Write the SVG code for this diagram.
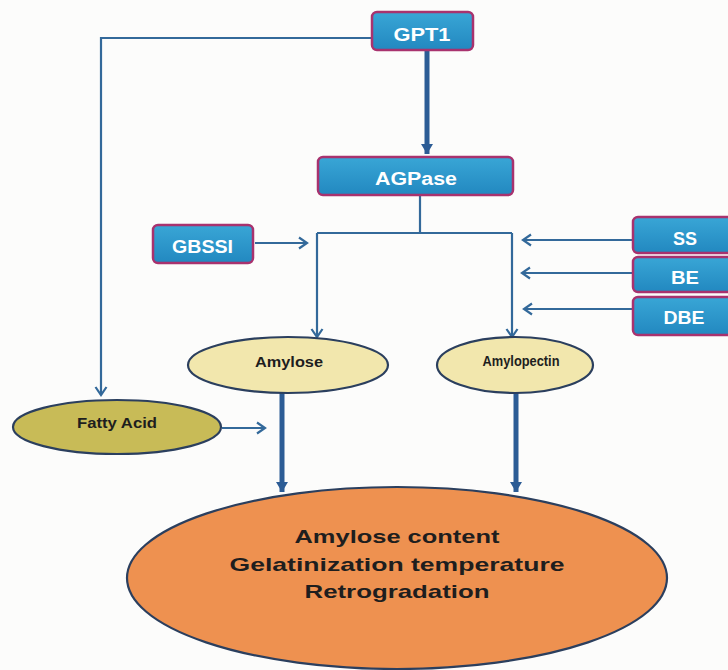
<svg xmlns="http://www.w3.org/2000/svg" width="728" height="670" viewBox="0 0 728 670">
<style>
.box{fill:url(#boxg);stroke:#a8326e;stroke-width:2.5}
.bt{font-family:"Liberation Sans",Arial,sans-serif;font-weight:bold;fill:#ffffff;text-anchor:middle}
.et{font-family:"Liberation Sans",Arial,sans-serif;font-weight:bold;fill:#1e1e1e;text-anchor:middle}
.thin{fill:none;stroke:#33699a;stroke-width:2.2}
.thick{fill:none;stroke:#2c5c95;stroke-width:5}
.ell{stroke:#2b3f5e;stroke-width:2.2}
</style>
<defs>
<linearGradient id="boxg" x1="0" y1="0" x2="0" y2="1">
<stop offset="0" stop-color="#39a6d6"/>
<stop offset="1" stop-color="#2288c0"/>
</linearGradient>
<marker id="open" markerUnits="userSpaceOnUse" markerWidth="14" markerHeight="14" refX="11" refY="7" orient="auto">
<path d="M3,1.5 L11,7 L3,12.5" fill="none" stroke="#33699a" stroke-width="2.2"/>
</marker>
<marker id="solid" markerUnits="userSpaceOnUse" markerWidth="14" markerHeight="14" refX="12" refY="7" orient="auto">
<path d="M2,1 L12,7 L2,13 Z" fill="#2c5c95"/>
</marker>
</defs>
<rect width="728" height="670" fill="#fcfcfb"/>
<g id="connectors">
<polyline class="thin" points="372,38 101,38 101,395" marker-end="url(#open)"/>
<line class="thick" x1="427" y1="50" x2="427" y2="154" marker-end="url(#solid)"/>
<polyline class="thin" points="420,195 420,233"/>
<polyline class="thin" points="317,233 512,233"/>
<line class="thin" x1="317" y1="233" x2="317" y2="337" marker-end="url(#open)"/>
<line class="thin" x1="512" y1="233" x2="512" y2="337" marker-end="url(#open)"/>
<line class="thin" x1="255" y1="243" x2="307" y2="243" marker-end="url(#open)"/>
<line class="thin" x1="633" y1="240" x2="523" y2="240" marker-end="url(#open)"/>
<line class="thin" x1="633" y1="273" x2="522" y2="273" marker-end="url(#open)"/>
<line class="thin" x1="633" y1="309" x2="524" y2="309" marker-end="url(#open)"/>
<line class="thin" x1="222" y1="428" x2="265" y2="428" marker-end="url(#open)"/>
<line class="thick" x1="282" y1="393" x2="282" y2="492" marker-end="url(#solid)"/>
<line class="thick" x1="516" y1="393" x2="516" y2="492" marker-end="url(#solid)"/>
</g>
<g id="GPT1">
<rect class="box" x="372" y="12" width="101" height="38" rx="5"/>
<text class="bt" x="422" y="40.5" font-size="18" textLength="57" lengthAdjust="spacingAndGlyphs">GPT1</text>
</g>
<g id="AGPase">
<rect class="box" x="318" y="157" width="195" height="38" rx="5"/>
<text class="bt" x="416" y="185" font-size="18" textLength="82" lengthAdjust="spacingAndGlyphs">AGPase</text>
</g>
<g id="GBSSI">
<rect class="box" x="153" y="225" width="100" height="38" rx="5"/>
<text class="bt" x="202.5" y="252.5" font-size="17.5" textLength="61" lengthAdjust="spacingAndGlyphs">GBSSI</text>
</g>
<g id="SS">
<rect class="box" x="633" y="217" width="104" height="36" rx="5"/>
<text class="bt" x="685" y="245" font-size="18" textLength="24" lengthAdjust="spacingAndGlyphs">SS</text>
</g>
<g id="BE">
<rect class="box" x="633" y="257" width="104" height="35" rx="5"/>
<text class="bt" x="685" y="284" font-size="18" textLength="28" lengthAdjust="spacingAndGlyphs">BE</text>
</g>
<g id="DBE">
<rect class="box" x="633" y="297" width="104" height="38" rx="5"/>
<text class="bt" x="684" y="324" font-size="18" textLength="41" lengthAdjust="spacingAndGlyphs">DBE</text>
</g>
<g id="Amylose">
<ellipse class="ell" cx="288" cy="365" rx="100" ry="28" fill="#f2e7ad"/>
<text class="et" x="289" y="367" font-size="14" textLength="68" lengthAdjust="spacingAndGlyphs">Amylose</text>
</g>
<g id="Amylopectin">
<ellipse class="ell" cx="515" cy="365" rx="78" ry="28" fill="#f2e7ad"/>
<text class="et" x="521" y="366" font-size="14" textLength="77" lengthAdjust="spacingAndGlyphs">Amylopectin</text>
</g>
<g id="FattyAcid">
<ellipse class="ell" cx="117" cy="427" rx="104" ry="27" fill="#c8bb57"/>
<text class="et" x="117" y="428" font-size="14" textLength="80" lengthAdjust="spacingAndGlyphs">Fatty Acid</text>
</g>
<g id="Properties">
<ellipse class="ell" cx="397" cy="578" rx="270" ry="91" fill="#ee9150"/>
<text class="et" x="397" y="543" font-size="19" textLength="205" lengthAdjust="spacingAndGlyphs">Amylose content</text>
<text class="et" x="397" y="571" font-size="19" textLength="335" lengthAdjust="spacingAndGlyphs">Gelatinization temperature</text>
<text class="et" x="397" y="598" font-size="19" textLength="185" lengthAdjust="spacingAndGlyphs">Retrogradation</text>
</g>
</svg>
